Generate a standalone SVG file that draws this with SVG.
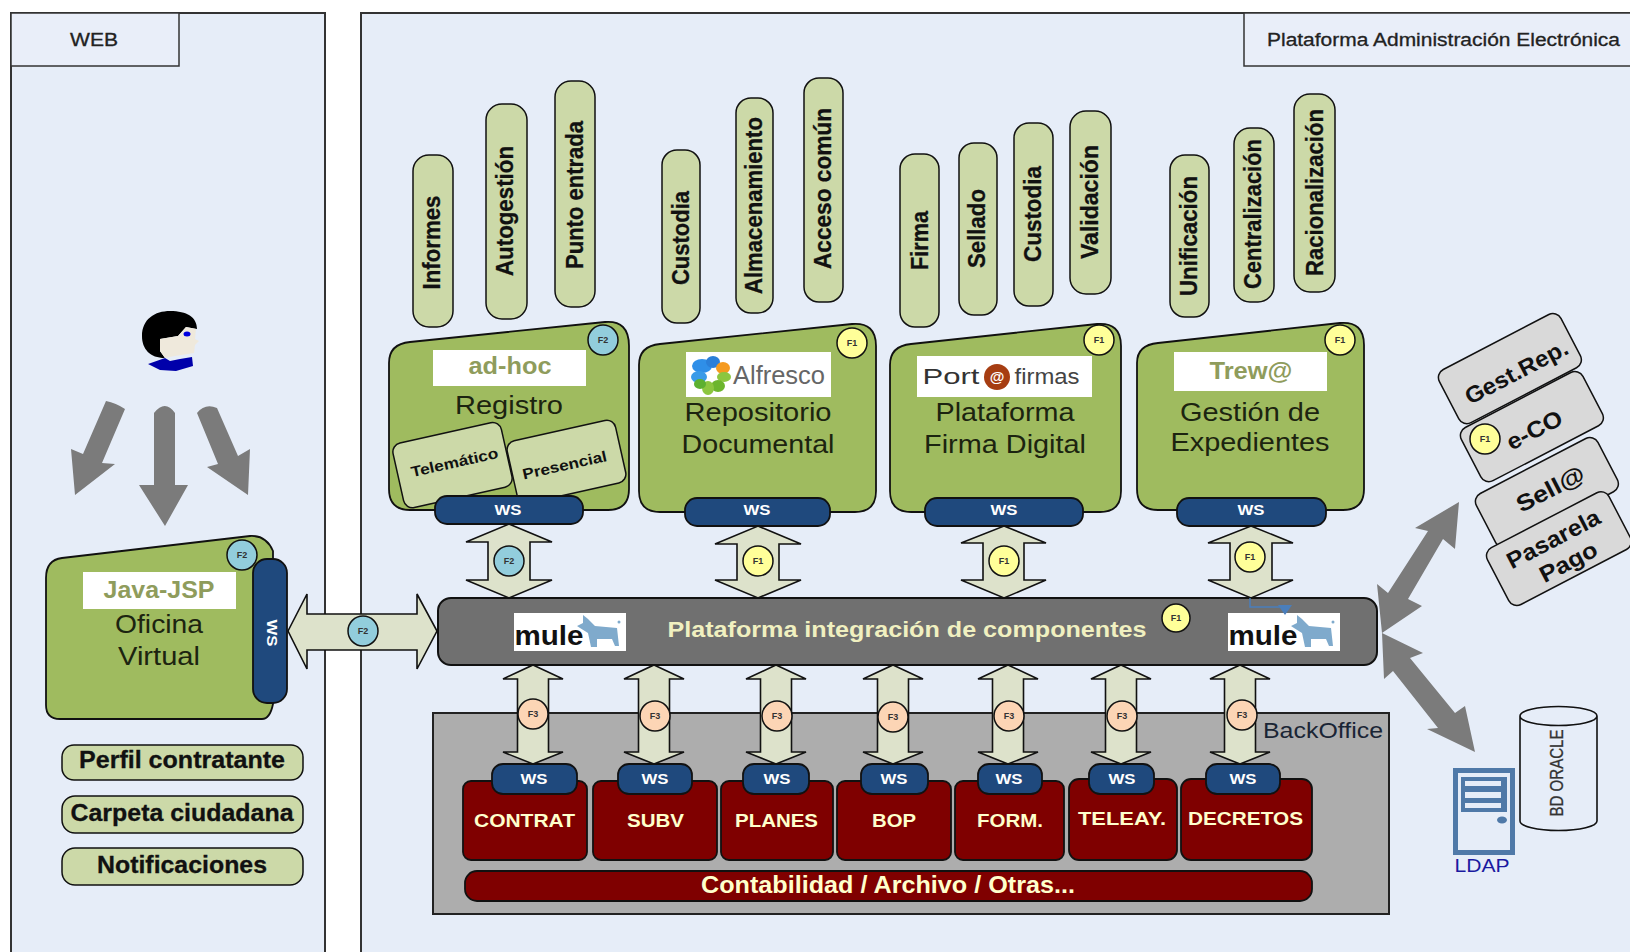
<svg xmlns="http://www.w3.org/2000/svg" xmlns:xlink="http://www.w3.org/1999/xlink" width="1630" height="952" viewBox="0 0 1630 952">
<style>
text{font-family:"Liberation Sans",Arial,sans-serif;text-anchor:middle}
.panel{fill:#e6edf8;stroke:#333;stroke-width:2}
.tag{fill:#e9eef9;stroke:#333;stroke-width:1.5}
.lbl{font-size:18px;fill:#222;stroke:#222;stroke-width:.3}
.node{fill:#9fbb5f;stroke:#111;stroke-width:1.8}
.white{fill:#fff}
.prod{font-size:23px;font-weight:bold;fill:#8f9c5c}
.name{font-size:25px;fill:#1c2410}
.pill{fill:#ccd9a8;stroke:#111;stroke-width:1.5}
.pt{font-size:24px;font-weight:bold;fill:#111;stroke:#111;stroke-width:.3}
.ws{fill:#1f497d;stroke:#111;stroke-width:1.8}
.wst{font-size:14px;font-weight:bold;fill:#fff}
.arrow{fill:#dde2cb;stroke:#111;stroke-width:1.6}
.gray{fill:#7b7b7b}
.f1{fill:#ffff99;stroke:#111;stroke-width:1.5}
.f2{fill:#92cddc;stroke:#111;stroke-width:1.5}
.f3{fill:#fcd5b5;stroke:#111;stroke-width:1.5}
.bt{font-size:9px;font-weight:bold;fill:#333}
.red{fill:#7f0000;stroke:#111;stroke-width:1.8}
.rt{font-size:18px;font-weight:bold;fill:#ffffcc}
.card{fill:#d9d9d9;stroke:#111;stroke-width:1.5}
.ct{font-size:23px;font-weight:bold;fill:#111}
</style>
<defs>
<path id="va" class="arrow" d="M0,664 L30,678 L15.5,678 L15.5,751 L30,751 L0,763 L-30,751 L-15.5,751 L-15.5,678 L-30,678Z"/>
<g id="mulelogo">
<rect class="white" x="514" y="612" width="112" height="38"/>
<text x="549" y="644" font-size="28" font-weight="bold" fill="#111" textLength="69" lengthAdjust="spacingAndGlyphs">mule</text>
<path fill="#7faacc" d="M577,625 L583,622 L583,614 L588,618 L595,625 L617,627 L619,645 L615,645 L612,638 L597,638 L597,646 L591,646 L588,632 L580,627Z"/>
<circle cx="619" cy="621" r="1.5" fill="#7faacc"/>
</g>
</defs>

<g id="web-panel">
<rect class="panel" x="11" y="13" width="314" height="960"/>
<rect class="tag" x="11" y="13" width="168" height="53"/>
<text class="lbl" x="94" y="46" textLength="48" lengthAdjust="spacingAndGlyphs">WEB</text>
</g>
<g id="platform-panel">
<rect class="panel" x="361" y="13" width="1290" height="960"/>
<rect class="tag" x="1244" y="13" width="400" height="53"/>
<text class="lbl" x="1443.500" y="46" textLength="353" lengthAdjust="spacingAndGlyphs">Plataforma Administración Electrónica</text>
</g>

<g id="content" transform="translate(0,1)">
<g id="backoffice">
<rect x="433" y="712" width="956" height="201" fill="#adadad" stroke="#222" stroke-width="2"/>
<text x="1323" y="737" font-size="22" fill="#1a2535" textLength="120" lengthAdjust="spacingAndGlyphs">BackOffice</text>
</g>
<g id="integration-bar">
<rect x="438" y="597" width="939" height="67" rx="13" fill="#707070" stroke="#111" stroke-width="2"/>
<use xlink:href="#mulelogo" href="#mulelogo"/>
<use xlink:href="#mulelogo" href="#mulelogo" x="714"/>
<text x="907" y="636" font-size="22" font-weight="bold" fill="#f0f0c0" textLength="479" lengthAdjust="spacingAndGlyphs">Plataforma integración de componentes</text>
<circle class="f1" cx="1176" cy="617" r="14"/><text class="bt" x="1176" y="620">F1</text>
</g>

<g id="connectors">
<path class="gray" d="M106,400 Q116,402 125,408 L102,462 L115,463 L75,494 L71,448 L83,453Z"/>
<path class="gray" d="M154,412 Q165,398 175,412 L175,484 L188,484 L165,525 L139,484 L154,484Z"/>
<path class="gray" d="M197,412 Q205,402 217,407 L238,455 L250,448 L248,494 L207,466 L218,463Z"/>
<path class="arrow" d="M288,630 L307,593 L307,613 L417,613 L417,593 L437,630 L417,668 L417,649 L307,649 L307,668Z"/>
<path class="arrow" d="M509,523 L552,541 L530,541 L530,579 L552,579 L509,597 L466,579 L488,579 L488,541 L466,541Z"/>
<path class="arrow" d="M758,525 L801,543 L779,543 L779,579 L801,579 L758,597 L715,579 L737,579 L737,543 L715,543Z"/>
<path class="arrow" d="M1004,525 L1046,542 L1024,542 L1024,579 L1046,579 L1004,597 L961,579 L983,579 L983,542 L961,542Z"/>
<path class="arrow" d="M1251,525 L1293,542 L1272,542 L1272,579 L1293,579 L1251,597 L1208,579 L1230,579 L1230,542 L1208,542Z"/>
<use xlink:href="#va" href="#va" x="533"/>
<use xlink:href="#va" href="#va" x="654"/>
<use xlink:href="#va" href="#va" x="776"/>
<use xlink:href="#va" href="#va" x="893"/>
<use xlink:href="#va" href="#va" x="1008"/>
<use xlink:href="#va" href="#va" x="1121"/>
<use xlink:href="#va" href="#va" x="1240"/>
<path class="gray" d="M1459,501 L1455,548 L1443,538 L1408,598 L1422,605 L1382,632 L1377,583 L1388,592 L1428,530 L1415,527Z"/>
<path class="gray" d="M1382,632 L1423,652 L1410,657 L1455,712 L1465,705 L1475,751 L1427,728 L1438,727 L1393,670 L1384,678Z"/>
<path fill="none" stroke="#4a7ebb" stroke-width="1.5" d="M1250,597 L1250,606 L1285,606"/>
<path fill="#4a7ebb" d="M1278,604 L1292,604 L1285,614Z"/>
<circle class="f2" cx="363" cy="630" r="15"/><text class="bt" x="363" y="633">F2</text>
<circle class="f2" cx="509" cy="560" r="15"/><text class="bt" x="509" y="563">F2</text>
<circle class="f1" cx="758" cy="560" r="15"/><text class="bt" x="758" y="563">F1</text>
<circle class="f1" cx="1004" cy="560" r="15"/><text class="bt" x="1004" y="563">F1</text>
<circle class="f1" cx="1250" cy="556" r="15"/><text class="bt" x="1250" y="559">F1</text>
<g>
<circle class="f3" cx="533" cy="713" r="15"/><text class="bt" x="533" y="716">F3</text>
<circle class="f3" cx="655" cy="715" r="15"/><text class="bt" x="655" y="718">F3</text>
<circle class="f3" cx="777" cy="715" r="15"/><text class="bt" x="777" y="718">F3</text>
<circle class="f3" cx="893" cy="716" r="15"/><text class="bt" x="893" y="719">F3</text>
<circle class="f3" cx="1009" cy="715" r="15"/><text class="bt" x="1009" y="718">F3</text>
<circle class="f3" cx="1122" cy="715" r="15"/><text class="bt" x="1122" y="718">F3</text>
<circle class="f3" cx="1242" cy="714" r="15"/><text class="bt" x="1242" y="717">F3</text>
</g>
</g>

<g id="user">
<path fill="#000" d="M142,335 C142,318 155,310 170,310 C187,310 197,316 197,328 L186,326 L178,335 L160,338 L160,350 L165,357 C150,357 142,348 142,335Z"/>
<path fill="#efe9dc" d="M160,338 L178,335 L186,326 L196,328 L195,338 L199,340 L195,344 L194,352 L175,355 L165,357 L160,350Z"/>
<ellipse cx="187" cy="333" rx="3.500" ry="2.500" fill="#0000e0"/>
<path fill="#0000aa" d="M148,363 L165,357 L170,360 L180,358 L192,356 L193,365 L176,370 L160,369Z"/>
</g>

<g id="oficina-virtual">
<path class="node" d="M46,577 Q46,559 62,557 L250,535 Q266,534 273,550 L273,703 Q270,718 262,718 L60,718 Q46,718 46,704Z"/>
<rect class="white" x="83" y="571" width="153" height="37"/>
<text class="prod" x="159" y="597" textLength="111" lengthAdjust="spacingAndGlyphs">Java-JSP</text>
<text class="name" x="159" y="632" textLength="88" lengthAdjust="spacingAndGlyphs">Oficina</text>
<text class="name" x="159" y="664" textLength="82" lengthAdjust="spacingAndGlyphs">Virtual</text>
<circle class="f2" cx="242" cy="554" r="15"/><text class="bt" x="242" y="557">F2</text>
<rect class="ws" x="253" y="558" width="34" height="144" rx="14"/>
<text class="wst" transform="translate(267,632) rotate(90)" textLength="27" lengthAdjust="spacingAndGlyphs">WS</text>
</g>
<g id="perfil-contratante"><rect class="pill" x="62" y="744" width="241" height="35" rx="12"/><text class="pt" x="182" y="767" textLength="206" lengthAdjust="spacingAndGlyphs">Perfil contratante</text></g>
<g id="carpeta-ciudadana"><rect class="pill" x="62" y="795" width="241" height="37" rx="13"/><text class="pt" x="182" y="820" textLength="223" lengthAdjust="spacingAndGlyphs">Carpeta ciudadana</text></g>
<g id="notificaciones"><rect class="pill" x="62" y="847" width="241" height="37" rx="13"/><text class="pt" x="182" y="872" textLength="170" lengthAdjust="spacingAndGlyphs">Notificaciones</text></g>

<g id="pills">
<g><rect class="pill" x="413" y="154" width="40" height="172" rx="16"/><text class="pt" transform="translate(440,241.500) rotate(-90)" textLength="94" lengthAdjust="spacingAndGlyphs">Informes</text></g>
<g><rect class="pill" x="486" y="103" width="41" height="215" rx="16"/><text class="pt" transform="translate(513,210) rotate(-90)" textLength="130" lengthAdjust="spacingAndGlyphs">Autogestión</text></g>
<g><rect class="pill" x="555" y="80" width="40" height="226" rx="16"/><text class="pt" transform="translate(583,194) rotate(-90)" textLength="148" lengthAdjust="spacingAndGlyphs">Punto entrada</text></g>
<g><rect class="pill" x="662" y="149" width="38" height="173" rx="15"/><text class="pt" transform="translate(689,237) rotate(-90)" textLength="94" lengthAdjust="spacingAndGlyphs">Custodia</text></g>
<g><rect class="pill" x="736" y="97" width="37" height="215" rx="15"/><text class="pt" transform="translate(762,204.500) rotate(-90)" textLength="177" lengthAdjust="spacingAndGlyphs">Almacenamiento</text></g>
<g><rect class="pill" x="804" y="77" width="39" height="224" rx="15"/><text class="pt" transform="translate(831,187.500) rotate(-90)" textLength="161" lengthAdjust="spacingAndGlyphs">Acceso común</text></g>
<g><rect class="pill" x="900" y="153" width="39" height="173" rx="15"/><text class="pt" transform="translate(928,239.500) rotate(-90)" textLength="59" lengthAdjust="spacingAndGlyphs">Firma</text></g>
<g><rect class="pill" x="959" y="142" width="38" height="172" rx="15"/><text class="pt" transform="translate(985,227.500) rotate(-90)" textLength="79" lengthAdjust="spacingAndGlyphs">Sellado</text></g>
<g><rect class="pill" x="1014" y="122" width="39" height="183" rx="15"/><text class="pt" transform="translate(1041,213) rotate(-90)" textLength="96" lengthAdjust="spacingAndGlyphs">Custodia</text></g>
<g><rect class="pill" x="1070" y="110" width="41" height="183" rx="16"/><text class="pt" transform="translate(1098,201) rotate(-90)" textLength="114" lengthAdjust="spacingAndGlyphs">Validación</text></g>
<g><rect class="pill" x="1170" y="154" width="39" height="162" rx="15"/><text class="pt" transform="translate(1197,235) rotate(-90)" textLength="120" lengthAdjust="spacingAndGlyphs">Unificación</text></g>
<g><rect class="pill" x="1234" y="127" width="40" height="174" rx="16"/><text class="pt" transform="translate(1261,213) rotate(-90)" textLength="150" lengthAdjust="spacingAndGlyphs">Centralización</text></g>
<g><rect class="pill" x="1294" y="93" width="41" height="198" rx="16"/><text class="pt" transform="translate(1323,191.500) rotate(-90)" textLength="167" lengthAdjust="spacingAndGlyphs">Racionalización</text></g>
</g>

<g id="registro">
<path class="node" d="M389,362 Q389,343 410,341 L605,321 Q629,319 629,345 L629,488 Q629,509 608,509 L410,509 Q389,509 389,488Z"/>
<rect class="white" x="433" y="349" width="153" height="36"/>
<text class="prod" x="510" y="373" textLength="83" lengthAdjust="spacingAndGlyphs">ad-hoc</text>
<text class="name" x="509" y="413" textLength="108" lengthAdjust="spacingAndGlyphs">Registro</text>
<circle class="f2" cx="603" cy="339" r="15"/><text class="bt" x="603" y="342">F2</text>
<g transform="translate(453,464) rotate(-12.6)"><rect class="pill" x="-56" y="-33" width="111" height="66" rx="9"/><text font-size="15" font-weight="bold" fill="#111" x="2" y="3" textLength="89" lengthAdjust="spacingAndGlyphs">Telemático</text></g>
<g transform="translate(566,461) rotate(-12.6)"><rect class="pill" x="-55" y="-32" width="111" height="64" rx="9"/><text font-size="15" font-weight="bold" fill="#111" x="-2" y="8" textLength="86" lengthAdjust="spacingAndGlyphs">Presencial</text></g>
<rect class="ws" x="435" y="495" width="148" height="28" rx="12"/>
<text class="wst" x="508" y="514" textLength="27" lengthAdjust="spacingAndGlyphs">WS</text>
</g>

<g id="repositorio">
<path class="node" d="M639,364 Q639,345 660,343 L852,323 Q876,321 876,345 L876,490 Q876,511 855,511 L660,511 Q639,511 639,490Z"/>
<rect class="white" x="686" y="351" width="145" height="45"/>
<g>
<g transform="translate(711,374)">
<ellipse cx="-9" cy="-9" rx="10" ry="7" fill="#2f8fe8"/>
<ellipse cx="-12" cy="2" rx="8" ry="6" fill="#3a9be8"/>
<ellipse cx="2" cy="-13" rx="7" ry="6" fill="#2b7fd8"/>
<ellipse cx="12" cy="-7" rx="7" ry="6" fill="#f59a1f"/>
<ellipse cx="13" cy="2" rx="7" ry="5" fill="#8cc63f"/>
<ellipse cx="7" cy="11" rx="7" ry="6" fill="#6cb52d"/>
<ellipse cx="-3" cy="13" rx="6" ry="7" fill="#8cc63f"/>
<ellipse cx="-11" cy="9" rx="6" ry="5" fill="#5cb030"/>
</g>
<text x="779" y="383" font-size="26" fill="#666" textLength="92" lengthAdjust="spacingAndGlyphs">Alfresco</text>
</g>
<text class="name" x="758" y="420" textLength="147" lengthAdjust="spacingAndGlyphs">Repositorio</text>
<text class="name" x="758" y="452" textLength="153" lengthAdjust="spacingAndGlyphs">Documental</text>
<circle class="f1" cx="852" cy="342" r="15"/><text class="bt" x="852" y="345">F1</text>
<rect class="ws" x="685" y="497" width="145" height="28" rx="12"/>
<text class="wst" x="757" y="514" textLength="27" lengthAdjust="spacingAndGlyphs">WS</text>
</g>

<g id="firma-digital">
<path class="node" d="M890,364 Q890,345 911,343 L1097,323 Q1121,321 1121,345 L1121,490 Q1121,511 1100,511 L911,511 Q890,511 890,490Z"/>
<rect class="white" x="917" y="355" width="175" height="41"/>
<text x="951" y="383" font-size="22" fill="#333" textLength="57" lengthAdjust="spacingAndGlyphs">Port</text>
<circle cx="997" cy="376" r="13" fill="#a63d12"/>
<text x="997" y="381" font-size="15" font-weight="bold" fill="#fff">@</text>
<text x="1047" y="383" font-size="22" fill="#444" textLength="65" lengthAdjust="spacingAndGlyphs">firmas</text>
<text class="name" x="1005" y="420" textLength="139" lengthAdjust="spacingAndGlyphs">Plataforma</text>
<text class="name" x="1005" y="452" textLength="162" lengthAdjust="spacingAndGlyphs">Firma Digital</text>
<circle class="f1" cx="1099" cy="339" r="15"/><text class="bt" x="1099" y="342">F1</text>
<rect class="ws" x="925" y="497" width="158" height="28" rx="12"/>
<text class="wst" x="1004" y="514" textLength="27" lengthAdjust="spacingAndGlyphs">WS</text>
</g>

<g id="expedientes">
<path class="node" d="M1137,362 Q1137,344 1158,342 L1340,322 Q1364,320 1364,344 L1364,488 Q1364,509 1343,509 L1158,509 Q1137,509 1137,488Z"/>
<rect class="white" x="1174" y="351" width="153" height="39"/>
<text class="prod" x="1251" y="378" textLength="83" lengthAdjust="spacingAndGlyphs">Trew@</text>
<text class="name" x="1250" y="420" textLength="140" lengthAdjust="spacingAndGlyphs">Gestión de</text>
<text class="name" x="1250" y="450" textLength="159" lengthAdjust="spacingAndGlyphs">Expedientes</text>
<circle class="f1" cx="1340" cy="339" r="15"/><text class="bt" x="1340" y="342">F1</text>
<rect class="ws" x="1177" y="497" width="149" height="28" rx="12"/>
<text class="wst" x="1251" y="514" textLength="27" lengthAdjust="spacingAndGlyphs">WS</text>
</g>

<g id="gest-rep"><rect class="card" transform="translate(1513,366) rotate(-27.5)" x="-72" y="-30" width="137" height="60" rx="9"/><text class="ct" transform="translate(1520,378) rotate(-27.500)" textLength="113" lengthAdjust="spacingAndGlyphs">Gest.Rep.</text></g>
<g id="e-co"><rect class="card" transform="translate(1535,424) rotate(-27.5)" x="-72" y="-30" width="137" height="60" rx="9"/><circle class="f1" cx="1485" cy="438" r="15"/><text class="bt" x="1485" y="441">F1</text><text class="ct" transform="translate(1538,436) rotate(-27.500)" textLength="60" lengthAdjust="spacingAndGlyphs">e-CO</text></g>
<g id="sella"><rect class="card" transform="translate(1550,490) rotate(-27.5)" x="-72" y="-30" width="137" height="60" rx="9"/><text class="ct" transform="translate(1554,495) rotate(-27.500)" textLength="74" lengthAdjust="spacingAndGlyphs">Sell@</text></g>
<g id="pasarela-pago"><rect class="card" transform="translate(1562,546) rotate(-27.5)" x="-72" y="-32" width="137" height="64" rx="9"/><text class="ct" transform="translate(1557,545) rotate(-27.500)" textLength="102" lengthAdjust="spacingAndGlyphs">Pasarela</text><text class="ct" transform="translate(1572,568) rotate(-27.500)" textLength="62" lengthAdjust="spacingAndGlyphs">Pago</text></g>

<g id="ldap">
<rect x="1455.500" y="769.500" width="57" height="82" fill="#e6edf8" stroke="#4f79a8" stroke-width="5"/>
<rect x="1461" y="776" width="46" height="35" fill="#4f79a8"/>
<rect x="1465" y="780" width="36" height="5" fill="#e6edf8"/>
<rect x="1465" y="791" width="36" height="6" fill="#e6edf8"/>
<rect x="1465" y="802" width="36" height="5" fill="#e6edf8"/>
<ellipse cx="1502" cy="819" rx="5" ry="3.500" fill="#4f79a8"/>
<text x="1482" y="871" font-size="18" fill="#1a1aa0" textLength="55" lengthAdjust="spacingAndGlyphs">LDAP</text>
</g>
<g id="bd-oracle">
<path fill="none" stroke="#111" stroke-width="1.6" d="M1520,715 A38.500,9.500 0 0 1 1597,715 L1597,820 A38.500,9.500 0 0 1 1520,820Z M1520,715 A38.500,9.500 0 0 0 1597,715"/>
<text font-size="18" fill="#333" stroke="#333" stroke-width=".3" transform="translate(1563,772) rotate(-90)" textLength="87" lengthAdjust="spacingAndGlyphs">BD ORACLE</text>
</g>

<g id="red-boxes">
<g><rect class="red" x="463" y="780" width="124" height="79" rx="8"/><text class="rt" x="524.500" y="826" textLength="101" lengthAdjust="spacingAndGlyphs">CONTRAT</text><rect class="ws" x="492" y="763" width="85" height="30" rx="11"/><text class="wst" x="534" y="783" textLength="27" lengthAdjust="spacingAndGlyphs">WS</text></g>
<g><rect class="red" x="593" y="780" width="124" height="79" rx="8"/><text class="rt" x="655.500" y="826" textLength="57" lengthAdjust="spacingAndGlyphs">SUBV</text><rect class="ws" x="618" y="763" width="74" height="30" rx="11"/><text class="wst" x="655" y="783" textLength="27" lengthAdjust="spacingAndGlyphs">WS</text></g>
<g><rect class="red" x="721" y="780" width="112" height="79" rx="8"/><text class="rt" x="776.500" y="826" textLength="83" lengthAdjust="spacingAndGlyphs">PLANES</text><rect class="ws" x="743" y="763" width="66" height="30" rx="11"/><text class="wst" x="777" y="783" textLength="27" lengthAdjust="spacingAndGlyphs">WS</text></g>
<g><rect class="red" x="837" y="780" width="114" height="79" rx="8"/><text class="rt" x="894" y="826" textLength="44" lengthAdjust="spacingAndGlyphs">BOP</text><rect class="ws" x="861" y="763" width="67" height="30" rx="11"/><text class="wst" x="894" y="783" textLength="27" lengthAdjust="spacingAndGlyphs">WS</text></g>
<g><rect class="red" x="955" y="780" width="109" height="79" rx="8"/><text class="rt" x="1010" y="826" textLength="66" lengthAdjust="spacingAndGlyphs">FORM.</text><rect class="ws" x="978" y="763" width="64" height="30" rx="11"/><text class="wst" x="1009" y="783" textLength="27" lengthAdjust="spacingAndGlyphs">WS</text></g>
<g><rect class="red" x="1069" y="778" width="108" height="81" rx="10"/><text class="rt" x="1122" y="824" textLength="88" lengthAdjust="spacingAndGlyphs">TELEAY.</text><rect class="ws" x="1089" y="763" width="65" height="30" rx="11"/><text class="wst" x="1122" y="783" textLength="27" lengthAdjust="spacingAndGlyphs">WS</text></g>
<g><rect class="red" x="1181" y="778" width="131" height="81" rx="10"/><text class="rt" x="1245.500" y="824" textLength="115" lengthAdjust="spacingAndGlyphs">DECRETOS</text><rect class="ws" x="1206" y="763" width="74" height="30" rx="11"/><text class="wst" x="1243" y="783" textLength="27" lengthAdjust="spacingAndGlyphs">WS</text></g>
<g><rect class="red" x="465" y="870" width="847" height="30" rx="12"/><text x="888" y="892" font-size="23" font-weight="bold" fill="#ffffcc" textLength="374" lengthAdjust="spacingAndGlyphs">Contabilidad / Archivo / Otras...</text></g>
</g>
</g>
</svg>
